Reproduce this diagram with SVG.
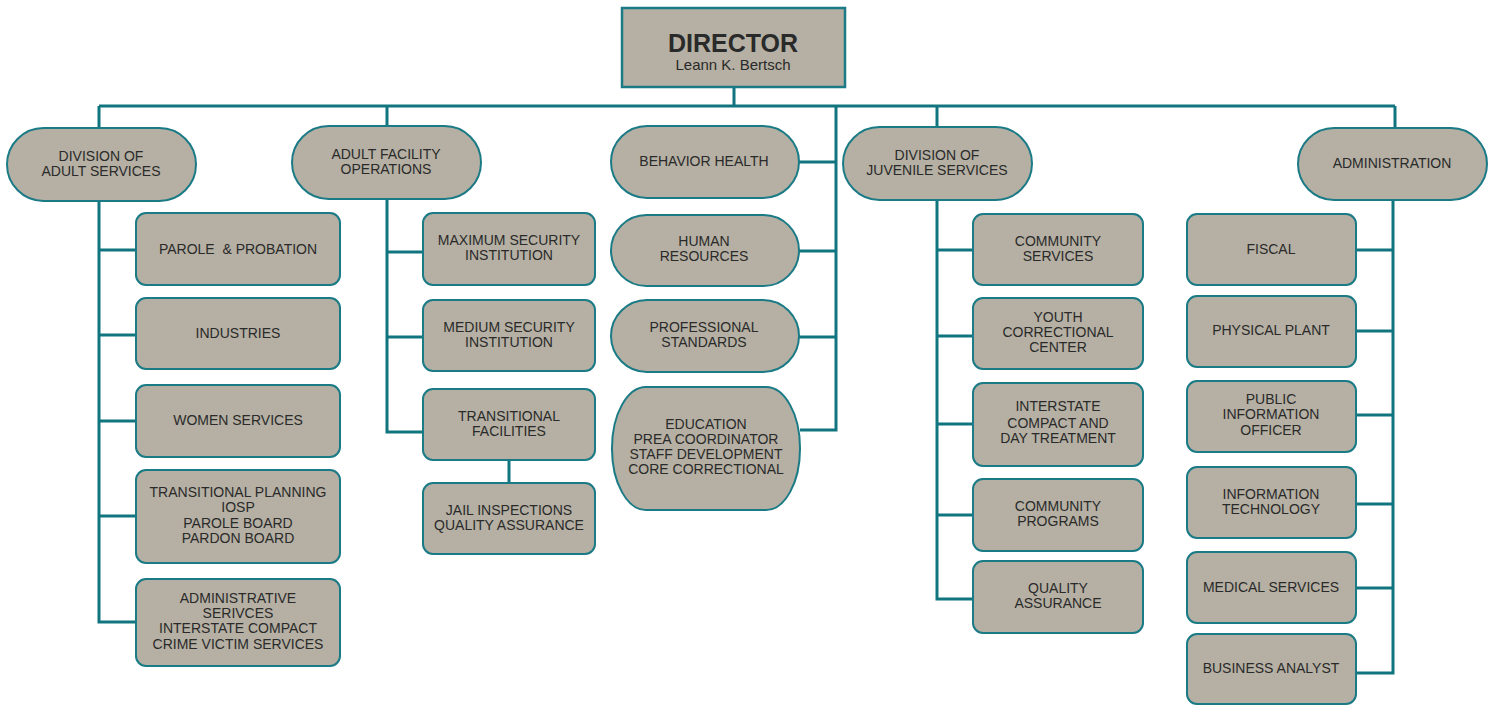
<svg xmlns="http://www.w3.org/2000/svg" width="1497" height="705" viewBox="0 0 1497 705">
<style>
.box{fill:#b5b0a3;stroke:#1a7a85;stroke-width:2}
.dir{fill:#b5b0a3;stroke:#1a7a85;stroke-width:2.5}
.t{font-family:"Liberation Sans",Arial,sans-serif;font-size:14px;fill:#2a2a2a;text-anchor:middle}
.c{fill:none;stroke:#117580;stroke-width:3}
</style>
<rect width="1497" height="705" fill="#ffffff"/>
<g id="connectors">
<path class="c" d="M734 87V106M99 106H1395M99 106V128M387 106V126M836 106V430H800M937 106V127M1395 106V128"/>
<path class="c" d="M799 162H836M799 251H836M799 337H836"/>
<path class="c" d="M99 201V622H136M99 250H136M99 335H136M99 421H136M99 516H136"/>
<path class="c" d="M387 199V432H423M387 252H423M387 337H423M509 460V483"/>
<path class="c" d="M937 200V599H973M937 250H973M937 336H973M937 424H973M937 515H973"/>
<path class="c" d="M1393 200V673H1356M1393 250H1356M1393 331H1356M1393 415H1356M1393 504H1356M1393 588H1356"/>
</g>
<g id="director">
<rect class="dir" x="622" y="8" width="223" height="79"/>
<text class="t" x="733" y="52" style="font-size:25px;font-weight:bold">DIRECTOR</text>
<text class="t" x="733" y="70" style="font-size:15px">Leann K. Bertsch</text>
</g>
<g id="div-adult">
<rect class="box" x="7" y="128" width="189" height="73" rx="36.5"/>
<text class="t" x="101" y="161">DIVISION OF</text>
<text class="t" x="101" y="176">ADULT SERVICES</text>
</g>
<g id="adult-facility">
<rect class="box" x="292" y="126" width="189" height="73" rx="36.5"/>
<text class="t" x="386" y="159">ADULT FACILITY</text>
<text class="t" x="386" y="174">OPERATIONS</text>
</g>
<g id="behavior-health">
<rect class="box" x="611" y="126" width="188" height="72" rx="36"/>
<text class="t" x="704" y="166">BEHAVIOR HEALTH</text>
</g>
<g id="div-juvenile">
<rect class="box" x="843" y="127" width="189" height="73" rx="36.5"/>
<text class="t" x="937" y="160">DIVISION OF</text>
<text class="t" x="937" y="175">JUVENILE SERVICES</text>
</g>
<g id="administration">
<rect class="box" x="1298" y="128" width="189" height="72" rx="36"/>
<text class="t" x="1392" y="168">ADMINISTRATION</text>
</g>
<g id="parole">
<rect class="box" x="136" y="213" width="204" height="72" rx="10"/>
<text class="t" x="238" y="254" xml:space="preserve">PAROLE  &amp; PROBATION</text>
</g>
<g id="industries">
<rect class="box" x="136" y="298" width="204" height="71" rx="10"/>
<text class="t" x="238" y="338">INDUSTRIES</text>
</g>
<g id="women">
<rect class="box" x="136" y="385" width="204" height="72" rx="10"/>
<text class="t" x="238" y="425">WOMEN SERVICES</text>
</g>
<g id="transitional-planning">
<rect class="box" x="136" y="470" width="204" height="93" rx="10"/>
<text class="t" x="238" y="497">TRANSITIONAL PLANNING</text>
<text class="t" x="238" y="512">IOSP</text>
<text class="t" x="238" y="528">PAROLE BOARD</text>
<text class="t" x="238" y="543">PARDON BOARD</text>
</g>
<g id="administrative-services">
<rect class="box" x="136" y="579" width="204" height="87" rx="10"/>
<text class="t" x="238" y="603">ADMINISTRATIVE</text>
<text class="t" x="238" y="618">SERIVCES</text>
<text class="t" x="238" y="633">INTERSTATE COMPACT</text>
<text class="t" x="238" y="649">CRIME VICTIM SERVICES</text>
</g>
<g id="maximum">
<rect class="box" x="423" y="213" width="172" height="72" rx="10"/>
<text class="t" x="509" y="245">MAXIMUM SECURITY</text>
<text class="t" x="509" y="260">INSTITUTION</text>
</g>
<g id="medium">
<rect class="box" x="423" y="300" width="172" height="71" rx="10"/>
<text class="t" x="509" y="332">MEDIUM SECURITY</text>
<text class="t" x="509" y="347">INSTITUTION</text>
</g>
<g id="transitional-facilities">
<rect class="box" x="423" y="389" width="172" height="71" rx="10"/>
<text class="t" x="509" y="421">TRANSITIONAL</text>
<text class="t" x="509" y="436">FACILITIES</text>
</g>
<g id="jail-inspections">
<rect class="box" x="423" y="483" width="172" height="71" rx="10"/>
<text class="t" x="509" y="515">JAIL INSPECTIONS</text>
<text class="t" x="509" y="530">QUALITY ASSURANCE</text>
</g>
<g id="human-resources">
<rect class="box" x="611" y="215" width="188" height="71" rx="35.5"/>
<text class="t" x="704" y="246">HUMAN</text>
<text class="t" x="704" y="261">RESOURCES</text>
</g>
<g id="professional-standards">
<rect class="box" x="611" y="300" width="188" height="72" rx="36"/>
<text class="t" x="704" y="332">PROFESSIONAL</text>
<text class="t" x="704" y="347">STANDARDS</text>
</g>
<g id="education">
<rect class="box" x="612" y="387" width="188" height="123" rx="34" ry="61"/>
<text class="t" x="706" y="429">EDUCATION</text>
<text class="t" x="706" y="444">PREA COORDINATOR</text>
<text class="t" x="706" y="459">STAFF DEVELOPMENT</text>
<text class="t" x="706" y="474">CORE CORRECTIONAL</text>
</g>
<g id="community-services">
<rect class="box" x="973" y="214" width="170" height="71" rx="10"/>
<text class="t" x="1058" y="246">COMMUNITY</text>
<text class="t" x="1058" y="261">SERVICES</text>
</g>
<g id="youth">
<rect class="box" x="973" y="298" width="170" height="71" rx="10"/>
<text class="t" x="1058" y="322">YOUTH</text>
<text class="t" x="1058" y="337">CORRECTIONAL</text>
<text class="t" x="1058" y="352">CENTER</text>
</g>
<g id="interstate">
<rect class="box" x="973" y="383" width="170" height="83" rx="10"/>
<text class="t" x="1058" y="411">INTERSTATE</text>
<text class="t" x="1058" y="428">COMPACT AND</text>
<text class="t" x="1058" y="443">DAY TREATMENT</text>
</g>
<g id="community-programs">
<rect class="box" x="973" y="479" width="170" height="72" rx="10"/>
<text class="t" x="1058" y="511">COMMUNITY</text>
<text class="t" x="1058" y="526">PROGRAMS</text>
</g>
<g id="quality-assurance">
<rect class="box" x="973" y="561" width="170" height="72" rx="10"/>
<text class="t" x="1058" y="593">QUALITY</text>
<text class="t" x="1058" y="608">ASSURANCE</text>
</g>
<g id="fiscal">
<rect class="box" x="1187" y="214" width="169" height="71" rx="10"/>
<text class="t" x="1271" y="254">FISCAL</text>
</g>
<g id="physical-plant">
<rect class="box" x="1187" y="296" width="169" height="71" rx="10"/>
<text class="t" x="1271" y="335">PHYSICAL PLANT</text>
</g>
<g id="public-information">
<rect class="box" x="1187" y="381" width="169" height="71" rx="10"/>
<text class="t" x="1271" y="404">PUBLIC</text>
<text class="t" x="1271" y="419">INFORMATION</text>
<text class="t" x="1271" y="435">OFFICER</text>
</g>
<g id="information-technology">
<rect class="box" x="1187" y="467" width="169" height="71" rx="10"/>
<text class="t" x="1271" y="499">INFORMATION</text>
<text class="t" x="1271" y="514">TECHNOLOGY</text>
</g>
<g id="medical">
<rect class="box" x="1187" y="552" width="169" height="71" rx="10"/>
<text class="t" x="1271" y="592">MEDICAL SERVICES</text>
</g>
<g id="business-analyst">
<rect class="box" x="1187" y="634" width="169" height="70" rx="10"/>
<text class="t" x="1271" y="673">BUSINESS ANALYST</text>
</g>
</svg>
